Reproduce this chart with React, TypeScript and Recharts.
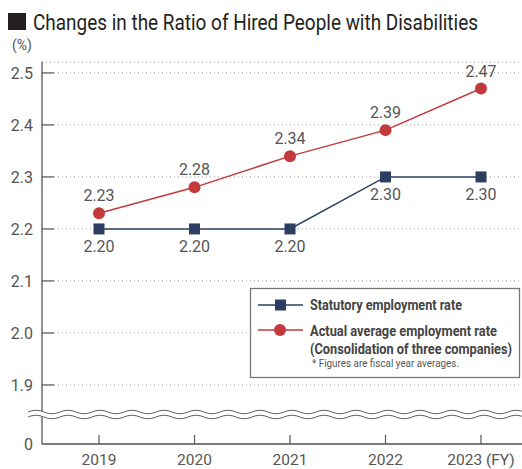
import React from 'react';
import { LineChart, Line, XAxis, YAxis, CartesianGrid, LabelList } from 'recharts';

const years = ['2019', '2020', '2021', '2022', '2023'];
const statutoryRate = [2.2, 2.2, 2.2, 2.3, 2.3];
const actualRate = [2.23, 2.28, 2.34, 2.39, 2.47];
const yTicks = [1.9, 2.0, 2.1, 2.2, 2.3, 2.4, 2.5];

// the axis is broken below 1.9, "0" sits at this value
const AXIS_FLOOR = 1.7865;

const NAVY = '#2c3f63';
const RED = '#c3393c';
const TEXT = '#555';
const FONT = 'Roboto, sans-serif';

const data = years.map((year, i) => ({
  year,
  statutory: statutoryRate[i],
  actual: actualRate[i],
}));

const XTick = (props: any) => {
  const { x, y, payload, index } = props;
  const label = index === years.length - 1 ? `${payload.value} (FY)` : payload.value;
  return (
    <g>
      <line x1={x} x2={x} y1={y} y2={y - 9} stroke="#555" strokeWidth={1.2} />
      <text x={x} y={y + 21} textAnchor="middle" fill={TEXT} fontSize={15.5} fontFamily={FONT}>
        {label}
      </text>
    </g>
  );
};

const YTick = (props: any) => {
  const { x, y, payload } = props;
  const isFloor = payload.value === AXIS_FLOOR;
  return (
    <g>
      {!isFloor && <line x1={x} x2={x + 12} y1={y} y2={y} stroke="#555" strokeWidth={1.2} />}
      <text x={x - 9} y={y + 6} textAnchor="end" fill={TEXT} fontSize={16} fontFamily={FONT}>
        {isFloor ? '0' : payload.value.toFixed(1)}
      </text>
    </g>
  );
};

const SquareDot = (props: any) => {
  const { cx, cy } = props;
  return <rect x={cx - 5.5} y={cy - 5.5} width={11} height={11} fill={NAVY} />;
};

const labelAbove = (props: any) => {
  const { x, y, value } = props;
  return (
    <text x={x} y={y - 12} textAnchor="middle" fill={TEXT} fontSize={16} fontFamily={FONT}>
      {value.toFixed(2)}
    </text>
  );
};

const labelBelow = (props: any) => {
  const { x, y, value } = props;
  return (
    <text x={x} y={y + 23} textAnchor="middle" fill={TEXT} fontSize={16} fontFamily={FONT}>
      {value.toFixed(2)}
    </text>
  );
};

// wavy double line marking the axis break
const wave = (y0: number) => {
  let d = `M28 ${y0}`;
  for (let x = 28; x < 530; x += 32) d += ` q8 -3.5 16 0 q8 3.5 16 0`;
  return d;
};

const App = () => {
  return (
    <div style={{ position: 'absolute', left: 0, top: 0, width: 522, height: 469, background: '#fff' }}>
      <LineChart width={522} height={469} data={data} margin={{ top: 62, right: 0, left: 0, bottom: 0 }}>
        <CartesianGrid vertical={false} stroke="#999" strokeDasharray="1 3" />
        <XAxis
          dataKey="year"
          height={25}
          padding={{ left: 57, right: 41 }}
          axisLine={{ stroke: '#555', strokeWidth: 1.3 }}
          tickLine={false}
          tickSize={0}
          tickMargin={0}
          tick={<XTick />}
          interval={0}
        />
        <YAxis
          width={42}
          domain={[AXIS_FLOOR, 2.521]}
          ticks={[AXIS_FLOOR, ...yTicks]}
          axisLine={{ stroke: '#555', strokeWidth: 1.3 }}
          tickLine={false}
          tickSize={0}
          tickMargin={0}
          tick={<YTick />}
          interval={0}
        />
        <Line
          dataKey="statutory"
          stroke={NAVY}
          strokeWidth={1.5}
          dot={<SquareDot />}
          isAnimationActive={false}
        >
          <LabelList dataKey="statutory" content={labelBelow} />
        </Line>
        <Line
          dataKey="actual"
          stroke={RED}
          strokeWidth={1.5}
          dot={{ r: 6, fill: RED, stroke: RED, strokeWidth: 0 }}
          isAnimationActive={false}
        >
          <LabelList dataKey="actual" content={labelAbove} />
        </Line>
      </LineChart>

      <svg width={522} height={469} style={{ position: 'absolute', left: 0, top: 0, pointerEvents: 'none' }}>
        {/* title */}
        <rect x={8} y={13} width={18} height={17} fill="#231f20" />
        <text x={33} y={30} fontFamily={FONT} fontSize={22} fill="#231f20" textLength={445} lengthAdjust="spacingAndGlyphs">
          Changes in the Ratio of Hired People with Disabilities
        </text>
        <text x={12} y={50} fontFamily={FONT} fontSize={14} fill={TEXT}>(%)</text>

        {/* axis break */}
        <path d={wave(414.5)} stroke="#fff" strokeWidth={5} fill="none" />
        <path d={wave(412)} stroke="#666" strokeWidth={1} fill="none" />
        <path d={wave(417)} stroke="#666" strokeWidth={1} fill="none" />

        {/* legend */}
        <rect x={250.5} y={288.5} width={269} height={89} fill="#fff" stroke="#777" strokeWidth={1.3} />
        <line x1={258} x2={303} y1={305} y2={305} stroke={NAVY} strokeWidth={1.5} />
        <rect x={275} y={299.5} width={11} height={11} fill={NAVY} />
        <line x1={258} x2={303} y1={330} y2={330} stroke={RED} strokeWidth={1.5} />
        <circle cx={280} cy={330} r={6} fill={RED} />
        <g fontFamily={FONT} fontWeight="bold" fontSize={14.5} fill="#444">
          <text x={310} y={310} textLength={152} lengthAdjust="spacingAndGlyphs">Statutory employment rate</text>
          <text x={310} y={336} textLength={187} lengthAdjust="spacingAndGlyphs">Actual average employment rate</text>
          <text x={310} y={354} textLength={202} lengthAdjust="spacingAndGlyphs">(Consolidation of three companies)</text>
        </g>
        <text x={312} y={367} fontFamily={FONT} fontSize={10.5} fill="#555" textLength={147} lengthAdjust="spacingAndGlyphs">
          * Figures are fiscal year averages.
        </text>
      </svg>
    </div>
  );
};

export default App;
